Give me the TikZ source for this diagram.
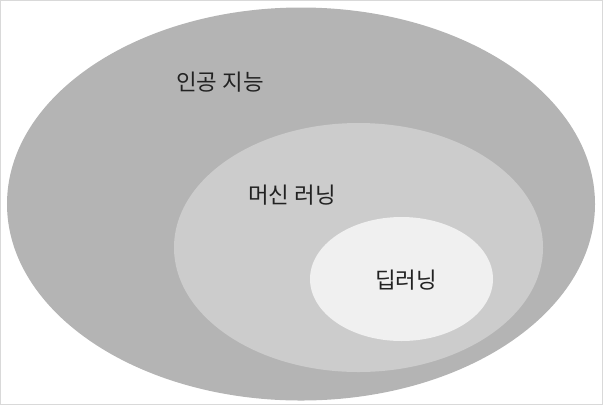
\documentclass[tikz,border=0pt]{standalone}
\usepackage{fontspec}
\newfontfamily\krfont{Noto Sans CJK KR}
\usetikzlibrary{shapes.geometric}

\definecolor{aigray}{HTML}{B4B4B4}
\definecolor{mlgray}{HTML}{CCCCCC}
\definecolor{dlgray}{HTML}{F0F0F0}
\definecolor{labelink}{HTML}{222222}

\tikzset{
  field/.style={ellipse, inner sep=0pt, draw=none},
  label text/.style={font=\krfont\fontsize{22.5}{25}\selectfont, text=labelink, inner sep=0pt}
}

\begin{document}
\begin{tikzpicture}[x=1bp, y=-1bp]
\useasboundingbox (0,0) rectangle (603,405);
\draw[gray!30, line width=0.8bp] (0.5,0.5) rectangle (602.5,404.5);
\node[field, fill=aigray, minimum width=588bp, minimum height=393bp] (ai) at (301,204) {};
\node[field, fill=mlgray, minimum width=369bp, minimum height=249bp] (ml) at (358.5,247.5) {};
\node[field, fill=dlgray, minimum width=183bp, minimum height=124bp] (dl) at (401.5,279) {};
\node[label text] (ailabel) at (220,82) {인공 지능};
\node[label text] (mllabel) at (292,195) {머신 러닝};
\node[label text] (dllabel) at (406,280) {딥러닝};
\end{tikzpicture}
\end{document}
